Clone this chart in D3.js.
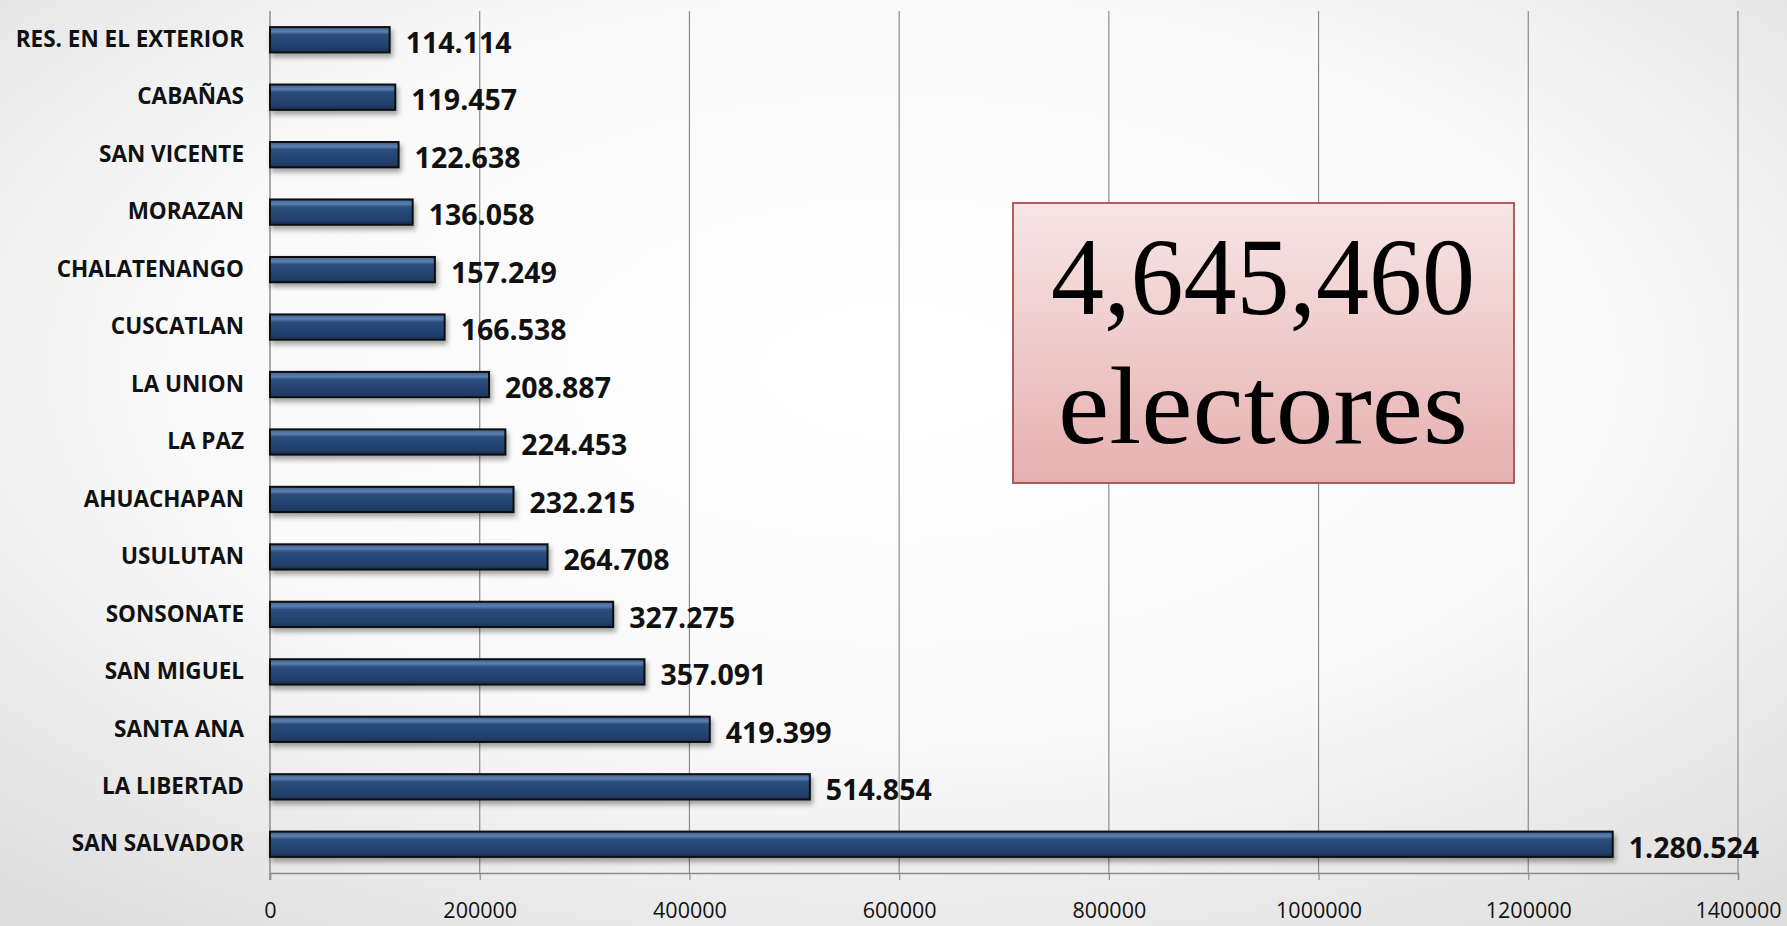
<!DOCTYPE html>
<html>
<head>
<meta charset="utf-8">
<script src="https://cdn.jsdelivr.net/npm/d3@7"></script>
<style>
  html, body { margin: 0; padding: 0; overflow: hidden; }
  svg { display: block; }
</style>
</head>
<body>
<div id="chart"></div>
<script>
////////////////////////////////////////////////////////////////////////
// Data: registered voters per department (top to bottom as drawn)
let departamentos = [
  "RES. EN EL EXTERIOR",
  "CABAÑAS",
  "SAN VICENTE",
  "MORAZAN",
  "CHALATENANGO",
  "CUSCATLAN",
  "LA UNION",
  "LA PAZ",
  "AHUACHAPAN",
  "USULUTAN",
  "SONSONATE",
  "SAN MIGUEL",
  "SANTA ANA",
  "LA LIBERTAD",
  "SAN SALVADOR"
];
let electores = [
  114114, 119457, 122638, 136058, 157249, 166538, 208887, 224453,
  232215, 264708, 327275, 357091, 419399, 514854, 1280524
];
let xTicks = [0, 200000, 400000, 600000, 800000, 1000000, 1200000, 1400000];
let totalLines = ["4,645,460", "electores"];

////////////////////////////////////////////////////////////////////////
// Canvas
let width = 1787;
let height = 926;
let plotLeft = 270, plotRight = 1738, plotTop = 11, plotBottom = 873;

let svg = d3.select("#chart")
  .append("svg")
  .attr("width", width).attr("height", height);

let defs = svg.append("defs");

// soft radial background, white in the middle and grey to the corners
let bg = defs.append("radialGradient").attr("id", "bg")
  .attr("cx", "50%").attr("cy", "40%").attr("r", "75%");
bg.append("stop").attr("offset", "0%").attr("stop-color", "#ffffff");
bg.append("stop").attr("offset", "55%").attr("stop-color", "#f9f9f9");
bg.append("stop").attr("offset", "100%").attr("stop-color", "#dedede");

// bar fill with a light bevel on top
let barGrad = defs.append("linearGradient").attr("id", "barGrad")
  .attr("x1", 0).attr("y1", 0).attr("x2", 0).attr("y2", 1);
barGrad.append("stop").attr("offset", "0%").attr("stop-color", "#3d6193");
barGrad.append("stop").attr("offset", "18%").attr("stop-color", "#5b7fb0");
barGrad.append("stop").attr("offset", "30%").attr("stop-color", "#2b4e7e");
barGrad.append("stop").attr("offset", "80%").attr("stop-color", "#213f6a");
barGrad.append("stop").attr("offset", "100%").attr("stop-color", "#1a3458");

let shadow = defs.append("filter").attr("id", "shadow")
  .attr("x", "-5%").attr("y", "-30%").attr("width", "115%").attr("height", "180%");
shadow.append("feDropShadow")
  .attr("dx", 2).attr("dy", 4).attr("stdDeviation", 2.5)
  .attr("flood-color", "#000").attr("flood-opacity", 0.35);

// pink box gradient
let boxGrad = defs.append("linearGradient").attr("id", "boxGrad")
  .attr("x1", 0).attr("y1", 0).attr("x2", 0).attr("y2", 1);
boxGrad.append("stop").attr("offset", "0%").attr("stop-color", "#f8e6e6");
boxGrad.append("stop").attr("offset", "100%").attr("stop-color", "#e6afaf");

svg.append("rect")
  .attr("width", width).attr("height", height)
  .attr("fill", "url(#bg)");

////////////////////////////////////////////////////////////////////////
// Scales
let xScale = d3.scaleLinear()
  .domain([0, 1400000])
  .range([plotLeft, plotRight]);

let yScale = d3.scaleBand()
  .domain(departamentos)
  .range([plotTop, plotBottom])
  .paddingInner(0.56)
  .paddingOuter(0.28);

// vertical gridlines
svg.append("g")
  .selectAll("line")
  .data(xTicks.slice(1))
  .enter()
  .append("line")
  .attr("x1", d => xScale(d)).attr("x2", d => xScale(d))
  .attr("y1", plotTop).attr("y2", plotBottom)
  .attr("stroke", "#8c8c8c").attr("stroke-width", 1.2);

// x axis
let xAxis = d3.axisBottom(xScale)
  .tickValues(xTicks)
  .tickSize(7)
  .tickPadding(23)
  .tickFormat(d3.format("d"));

let gx = svg.append("g")
  .attr("transform", "translate(0," + plotBottom + ")")
  .call(xAxis);
gx.select(".domain").attr("stroke", "#8c8c8c").attr("stroke-width", 1.5);
gx.selectAll(".tick line").attr("stroke", "#8c8c8c").attr("stroke-width", 1.2);
gx.selectAll(".tick text")
  .attr("font-family", "'Open Sans', sans-serif")
  .attr("font-size", 21.5)
  .attr("fill", "#111");

// left axis line
svg.append("line")
  .attr("x1", plotLeft).attr("x2", plotLeft)
  .attr("y1", plotTop).attr("y2", plotBottom + 7)
  .attr("stroke", "#8c8c8c").attr("stroke-width", 1.5);

// category labels
let gy = svg.append("g")
  .attr("transform", "translate(" + (plotLeft - 26) + ",0)")
  .call(d3.axisLeft(yScale).tickSize(0).tickPadding(0));
gy.select(".domain").remove();
gy.selectAll(".tick text")
  .attr("font-family", "'Open Sans', sans-serif")
  .attr("font-weight", "bold")
  .attr("font-size", 22.5)
  .attr("fill", "#111");

////////////////////////////////////////////////////////////////////////
// Bars
let rows = departamentos.map((d, i) => ({ name: d, value: electores[i] }));

svg.append("g")
  .selectAll(".bar")
  .data(rows)
  .enter()
  .append("rect")
  .attr("class", "bar")
  .attr("x", xScale(0))
  .attr("y", d => yScale(d.name))
  .attr("width", d => xScale(d.value) - xScale(0))
  .attr("height", yScale.bandwidth())
  .attr("fill", "url(#barGrad)")
  .attr("stroke", "#0d0d0d")
  .attr("stroke-width", 2)
  .attr("filter", "url(#shadow)");

// value labels with dots as thousands separator
let fmt = d3.formatLocale({ decimal: ",", thousands: ".", grouping: [3], currency: ["", ""] }).format(",d");

svg.append("g")
  .selectAll(".value")
  .data(rows)
  .enter()
  .append("text")
  .attr("class", "value")
  .attr("x", d => xScale(d.value) + 16)
  .attr("y", d => yScale(d.name) + yScale.bandwidth() / 2 + 3)
  .attr("dy", "0.36em")
  .attr("font-family", "'Open Sans', sans-serif")
  .attr("font-weight", "bold")
  .attr("font-size", 28.5)
  .attr("fill", "#111")
  .text(d => fmt(d.value));

////////////////////////////////////////////////////////////////////////
// Total box
let box = svg.append("g");
box.append("rect")
  .attr("x", 1013).attr("y", 203)
  .attr("width", 501).attr("height", 280)
  .attr("fill", "url(#boxGrad)")
  .attr("stroke", "#a54e4e").attr("stroke-width", 1.8);

// widths of the two lines as measured in the picture
let lineWidths = [424, 410];

box.selectAll("text")
  .data(totalLines)
  .enter()
  .append("text")
  .attr("x", 1263)
  .attr("y", (d, i) => 314 + i * 129)
  .attr("text-anchor", "middle")
  .attr("font-family", "'Liberation Serif', 'DejaVu Serif', serif")
  .attr("font-size", 111)
  .attr("textLength", (d, i) => lineWidths[i])
  .attr("lengthAdjust", "spacingAndGlyphs")
  .attr("fill", "#000")
  .text(d => d);
</script>
</body>
</html>
